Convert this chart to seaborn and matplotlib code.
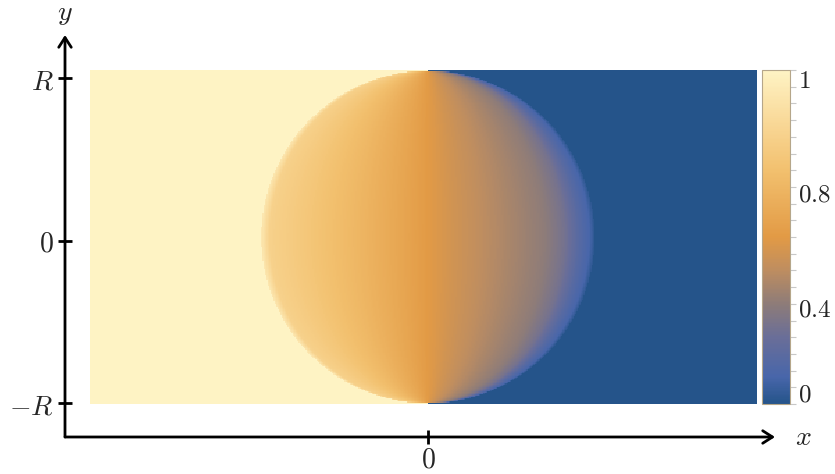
import numpy as np
import matplotlib
matplotlib.use("Agg")
import matplotlib.pyplot as plt
from matplotlib.colors import LinearSegmentedColormap
import seaborn as sns

# colour scale (value -> colour)
cmap_stops  = [0.0, 0.08, 0.2, 0.3, 0.4, 0.5, 0.7, 0.85, 1.0]
cmap_colors = ["#25548a", "#4866aa", "#6a6e98", "#8e7c78", "#be8d60",
               "#e29a45", "#f2c06e", "#f9d999", "#fef3c4"]

# value inside the disc, read along the chord: s = x / sqrt(R^2 - y^2)
disc_s   = [-1.0, -0.95, -0.77, -0.46, -0.16, 0.0, 0.15, 0.33, 0.51, 0.70, 0.82, 0.91, 0.97, 1.0]
disc_val = [0.93, 0.80, 0.75, 0.66, 0.56, 0.50, 0.45, 0.40, 0.35, 0.30, 0.23, 0.13, 0.08, 0.02]
left_val  = 1.0   # x < 0, outside the disc
right_val = 0.0   # x > 0, outside the disc

x_ticks, x_tick_labels = [0], ["$0$"]
y_ticks, y_tick_labels = [-1, 0, 1], ["$-R$", "$0$", "$R$"]
cbar_tick_pos    = [0.976, 0.635, 0.29, 0.036]
cbar_tick_labels = ["$1$", "$0.8$", "$0.4$", "$0$"]

sns.set_style("white")
plt.rcParams["mathtext.fontset"] = "cm"

W, H = 835, 474
fig = plt.figure(figsize=(W / 100, H / 100), dpi=100)

def px_rect(x0, y0, x1, y1):
    return [x0 / W, 1 - y1 / H, (x1 - x0) / W, (y1 - y0) / H]

ax_img = fig.add_axes(px_rect(90, 70, 757, 404))
cax = fig.add_axes(px_rect(762, 70, 790, 404))
ax = fig.add_axes(px_rect(65, 35, 775, 437))
ax.patch.set_alpha(0)

# field on a grid (R = 1)
nx, ny = 480, 240
xs = np.linspace(-2.024, 1.970, nx)
ys = np.linspace(1, -1, ny)
X, Y = np.meshgrid(xs, ys)
inside = X**2 + Y**2 < 1
field = np.where(X < 0, left_val, right_val).astype(float)
half = np.sqrt(np.clip(1 - Y**2, 1e-9, None))
field[inside] = np.interp(X[inside] / half[inside], disc_s, disc_val)

cmap = LinearSegmentedColormap.from_list("disc", list(zip(cmap_stops, cmap_colors)))
sns.heatmap(field, ax=ax_img, cmap=cmap, vmin=0, vmax=1, cbar_ax=cax,
            xticklabels=False, yticklabels=False, rasterized=True)
ax_img.set_axis_off()

cbar = ax_img.collections[0].colorbar
cbar.set_ticks(cbar_tick_pos)
cbar.set_ticklabels(cbar_tick_labels)
cbar.ax.tick_params(which="major", right=True, length=0, labelsize=18, pad=6)
cbar.ax.set_yticks(np.arange(0, 1.001, 0.05), minor=True)
cbar.ax.tick_params(which="minor", right=True, length=4, width=0.8, color="#c8c8c8")
cbar.outline.set_edgecolor("#b5a68a")
cbar.outline.set_linewidth(0.8)

# axes with arrows
ax.set_xlim(-2.234, 2.135)
ax.set_ylim(-1.209, 1.265)
for sp in ax.spines.values():
    sp.set_visible(False)
arrow = dict(arrowstyle="->,head_length=0.7,head_width=0.45", lw=2.0,
             color="black", shrinkA=0, shrinkB=0)
ax.annotate("", xy=(1, 0), xytext=(0, 0), xycoords="axes fraction", arrowprops=arrow)
ax.annotate("", xy=(0, 1), xytext=(0, 0), xycoords="axes fraction", arrowprops=arrow)
ax.set_xticks(x_ticks, x_tick_labels)
ax.set_yticks(y_ticks, y_tick_labels)
ax.tick_params(bottom=True, left=True, direction="inout", length=10, width=2.0,
               color="black", labelsize=20, pad=3)
ax.tick_params(axis="x", pad=1)
ax.text(1.04, 0, "$x$", transform=ax.transAxes, fontsize=20, va="center", ha="center")
ax.text(0, 1.055, "$y$", transform=ax.transAxes, fontsize=20, va="center", ha="center")

fig.savefig("out.png", dpi=100)
